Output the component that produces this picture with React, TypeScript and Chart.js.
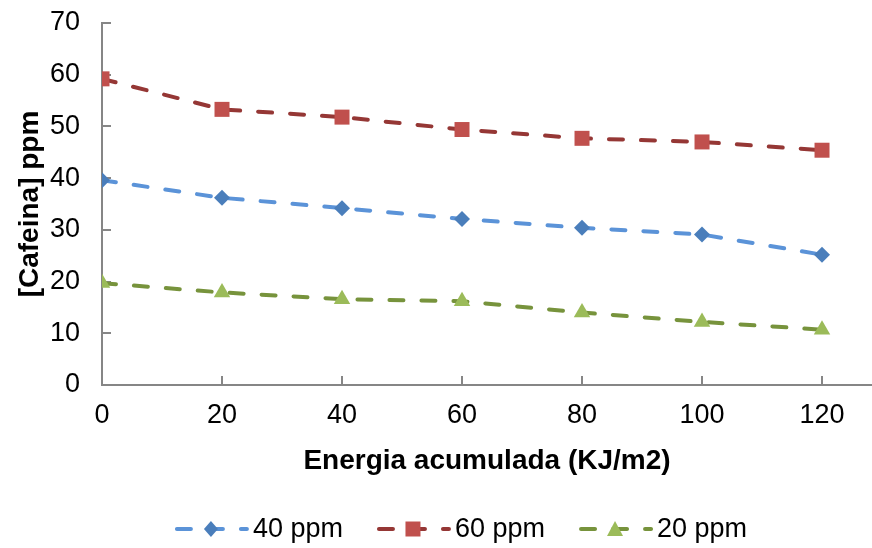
import React, { useEffect, useRef } from 'react';
import { Chart, registerables } from 'chart.js';

Chart.register(...registerables);

const energy = [0, 20, 40, 60, 80, 100, 120];
const ppm40 = [39.6, 36.2, 34.2, 32.1, 30.4, 29.1, 25.2];
const ppm60 = [59.2, 53.3, 51.8, 49.4, 47.7, 47.0, 45.4];
const ppm20 = [19.7, 17.9, 16.6, 16.2, 14.0, 12.2, 10.7];
const seriesLabels = ['40 ppm', '60 ppm', '20 ppm'];
const xTicks = [0, 20, 40, 60, 80, 100, 120];
const yTicks = [0, 10, 20, 30, 40, 50, 60, 70];
const xTitle = 'Energia acumulada (KJ/m2)';
const yTitle = '[Cafeina] ppm';

const FONT = '"Liberation Sans", Arial, sans-serif';
const AXIS = '#868686';
const DASH = [14, 18];

function drawMarker(ctx: CanvasRenderingContext2D, style: string, x: number, y: number, color: string) {
  ctx.save();
  ctx.setLineDash([]);
  ctx.fillStyle = color;
  ctx.beginPath();
  if (style === 'rectRot') {
    ctx.moveTo(x, y - 8);
    ctx.lineTo(x + 7, y);
    ctx.lineTo(x, y + 8);
    ctx.lineTo(x - 7, y);
  } else if (style === 'rect') {
    ctx.rect(x - 7.5, y - 7.5, 15, 15);
  } else {
    ctx.moveTo(x, y - 8);
    ctx.lineTo(x + 8, y + 7);
    ctx.lineTo(x - 8, y + 7);
  }
  ctx.closePath();
  ctx.fill();
  ctx.restore();
}

const decor = {
  id: 'decor',
  afterLayout(chart: any) {
    const x = chart.scales.x;
    const d = chart.width - chart.chartArea.right;
    if (d > 0) {
      chart.chartArea.right += d;
      chart.chartArea.width += d;
      x.right += d;
      x.width += d;
      x.configure();
    }
  },
  beforeDatasetsDraw(chart: any) {
    const { ctx, chartArea, scales } = chart;
    const x = scales.x;
    const y = scales.y;
    ctx.save();
    ctx.strokeStyle = AXIS;
    ctx.lineWidth = 2;
    for (const t of y.ticks) {
      const py = Math.round(y.getPixelForValue(t.value));
      ctx.beginPath();
      ctx.moveTo(chartArea.left, py);
      ctx.lineTo(chartArea.left + 9, py);
      ctx.stroke();
    }
    for (const t of x.ticks) {
      const px = Math.round(x.getPixelForValue(t.value));
      ctx.beginPath();
      ctx.moveTo(px, chartArea.bottom);
      ctx.lineTo(px, chartArea.bottom - 9);
      ctx.stroke();
    }
    ctx.fillStyle = '#000';
    ctx.font = 'bold 28px ' + FONT;
    ctx.textAlign = 'center';
    ctx.textBaseline = 'middle';
    ctx.fillText(xTitle, (chartArea.left + chartArea.right) / 2, chartArea.bottom + 76);
    ctx.save();
    ctx.translate(chartArea.left - 72, (chartArea.top + chartArea.bottom) / 2);
    ctx.rotate(-Math.PI / 2);
    ctx.fillText(yTitle, 0, 0);
    ctx.restore();
    ctx.restore();
  },
  afterDraw(chart: any) {
    const { ctx } = chart;
    const ds = chart.data.datasets;
    ctx.save();
    ctx.font = '27px ' + FONT;
    ctx.textBaseline = 'middle';
    ctx.textAlign = 'left';
    const symW = 72;
    const gap = 6;
    const spacing = 34;
    const widths = ds.map((d: any) => symW + gap + ctx.measureText(d.label).width);
    const total = widths.reduce((a: number, b: number) => a + b, 0) + spacing * (ds.length - 1);
    let cx = 461 - total / 2;
    const cy = 529;
    ds.forEach((d: any, i: number) => {
      ctx.save();
      ctx.strokeStyle = d.borderColor;
      ctx.lineWidth = d.borderWidth;
      ctx.lineCap = 'round';
      ctx.setLineDash(DASH);
      ctx.beginPath();
      ctx.moveTo(cx + 2, cy);
      ctx.lineTo(cx + symW, cy);
      ctx.stroke();
      ctx.restore();
      drawMarker(ctx, d.pointStyle, cx + symW / 2, cy, d.pointBackgroundColor);
      ctx.fillStyle = '#000';
      ctx.fillText(d.label, cx + symW + gap, cy + 1);
      cx += widths[i] + spacing;
    });
    ctx.restore();
  },
};

export default function App() {
  const ref = useRef<HTMLCanvasElement>(null);
  useEffect(() => {
    if (!ref.current) return;
    Chart.defaults.font.family = FONT;
    const mk = (vals: number[]) => energy.map((e, i) => ({ x: e, y: vals[i] }));
    const common = {
      pointBorderWidth: 0,
      borderWidth: 4,
      borderDash: DASH,
      borderCapStyle: 'round',
      tension: 0,
    };
    const chart = new Chart(ref.current, {
      type: 'line',
      data: {
        datasets: [
          {
            ...common,
            label: seriesLabels[0],
            data: mk(ppm40),
            borderColor: '#5B93D8',
            backgroundColor: '#4A7EBB',
            pointBackgroundColor: '#4A7EBB',
            pointBorderColor: '#4A7EBB',
            pointStyle: 'rectRot',
            pointRadius: 8,
          },
          {
            ...common,
            label: seriesLabels[1],
            data: mk(ppm60),
            borderColor: '#953735',
            backgroundColor: '#C0504D',
            pointBackgroundColor: '#C0504D',
            pointBorderColor: '#C0504D',
            pointStyle: 'rect',
            pointRadius: 10.6,
          },
          {
            ...common,
            label: seriesLabels[2],
            data: mk(ppm20),
            borderColor: '#77933C',
            backgroundColor: '#9BBB59',
            pointBackgroundColor: '#9BBB59',
            pointBorderColor: '#9BBB59',
            pointStyle: 'triangle',
            pointRadius: 9.5,
          },
        ] as any,
      },
      options: {
        responsive: false,
        animation: false,
        layout: { padding: { top: 23, left: 0, right: 0, bottom: 0 } },
        plugins: { legend: { display: false }, tooltip: { enabled: false } },
        scales: {
          x: {
            type: 'linear',
            min: 0,
            max: 128.33,
            afterBuildTicks: (s: any) => {
              s.ticks = xTicks.map((v) => ({ value: v }));
            },
            afterFit: (s: any) => {
              s.height = 163;
              s.paddingLeft = 0;
              s.paddingRight = 0;
            },
            grid: { display: true, drawOnChartArea: false, drawTicks: false },
            border: { display: true, color: AXIS, width: 2 },
            ticks: { color: '#000', font: { size: 27 }, padding: 14, maxRotation: 0 },
          },
          y: {
            type: 'linear',
            min: 0,
            max: 70,
            afterBuildTicks: (s: any) => {
              s.ticks = yTicks.map((v) => ({ value: v }));
            },
            afterFit: (s: any) => {
              s.width = 102;
              s.paddingTop = 0;
              s.paddingBottom = 0;
            },
            grid: { display: true, drawOnChartArea: false, drawTicks: false },
            border: { display: true, color: AXIS, width: 2 },
            ticks: { color: '#000', font: { size: 27 }, padding: 22 },
          },
        },
      },
      plugins: [decor],
    });
    return () => chart.destroy();
  }, []);
  return (
    <div style={{ position: 'absolute', left: 0, top: 0, width: 872, height: 548, background: '#fff' }}>
      <canvas ref={ref} width={872} height={548} style={{ width: 872, height: 548, display: 'block' }} />
    </div>
  );
}
